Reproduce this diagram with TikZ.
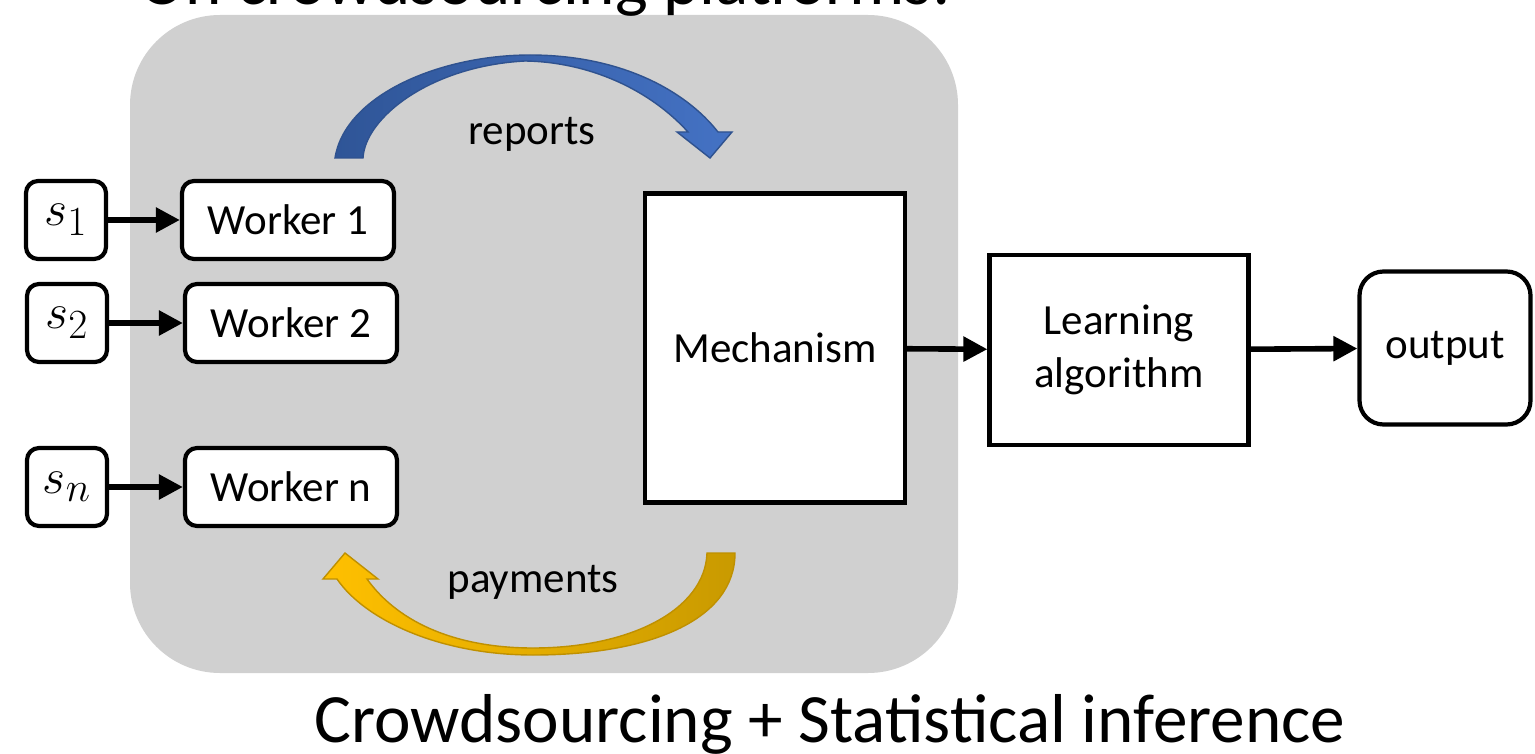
\documentclass[tikz,border=0pt]{standalone}
\usepackage{fontspec}
\setmainfont{Carlito}
\usetikzlibrary{arrows.meta}
\definecolor{panelgray}{RGB}{208,208,208}
\definecolor{repdark}{RGB}{47,85,151}
\definecolor{replight}{RGB}{68,114,196}
\definecolor{repline}{RGB}{47,82,143}
\definecolor{paylight}{RGB}{255,192,0}
\definecolor{paydark}{RGB}{201,154,0}
\definecolor{payline}{RGB}{191,144,0}

\begin{document}
\begin{tikzpicture}
[x=0.5pt,y=-0.5pt
,txt/.style={font=\fontsize{21.5}{26.5}\selectfont}
,bx/.style={txt,draw,line width=2.1pt,fill=white,inner sep=0pt,align=center}
,rbx/.style={bx,rounded corners=6pt}
,src/.style={rbx,minimum width=40pt,minimum height=39pt,font=\fontsize{28}{30}\selectfont}
,wk/.style={rbx,minimum width=106pt,minimum height=39pt}
,ln/.style={line width=2.8pt,arrows={-Triangle[length=12pt,width=12pt]}}
,big/.style={font=\fontsize{34.6}{40}\selectfont}
]
\useasboundingbox (0,0) rectangle (1535,754);
\fill[panelgray,rounded corners=45pt] (130,15) rectangle (958,673);
\node[big,anchor=base] (ttl) at (545,5) {On crowdsourcing platforms:};
\node[big,anchor=base] (cap) at (830,742) {Crowdsourcing + Statistical inference};
% inputs and workers
\node[src] (s1) at (66,220) {$s_1$};
\node[src] (s2) at (67,323) {$s_2$};
\node[src] (sn) at (67,487) {$s_n$};
\node[wk] (w1) at (288,220) {Worker 1};
\node[wk] (w2) at (291,323) {Worker 2};
\node[wk] (wn) at (291,487) {Worker n};
\draw[ln] (s1) -- (w1);
\draw[ln] (s2) -- (w2);
\draw[ln] (sn) -- (wn);
% pipeline
\node[bx,minimum width=130pt,minimum height=154.5pt] (mech) at (775,348) {Mechanism};
\node[bx,minimum width=129.5pt,minimum height=95pt] (learn) at (1119,350) {Learning\\algorithm};
\node[rbx,rounded corners=12pt,minimum width=85.5pt,minimum height=76.5pt] (out) at (1445,348) {output};
\draw[ln] (mech) -- (learn);
\draw[ln] (learn) -- (out);
% curved block arrows
\shade[left color=repdark,right color=replight,draw=repline,line width=0.7pt]
  (335,158) .. controls (345,95) and (440,55) .. (530,55)
  .. controls (620,55) and (685,90) .. (718,132)
  -- (732,132) -- (710,158) -- (677,132) -- (688,132)
  .. controls (650,90) and (590,62) .. (525,61)
  .. controls (430,66) and (365,118) .. (363,158) -- cycle;
\node[txt,anchor=base] (rep) at (532,145) {reports};
\shade[left color=paylight,right color=paydark,draw=payline,line width=0.7pt]
  (735,553) .. controls (735,620) and (650,655) .. (533,655)
  .. controls (440,655) and (365,620) .. (337,579)
  -- (323,579) -- (345,553) -- (378,579) -- (367,579)
  .. controls (400,625) and (460,648) .. (533,648)
  .. controls (630,648) and (705,610) .. (707,553) -- cycle;
\node[txt,anchor=base] (pay) at (533,592) {payments};
\end{tikzpicture}
\end{document}
